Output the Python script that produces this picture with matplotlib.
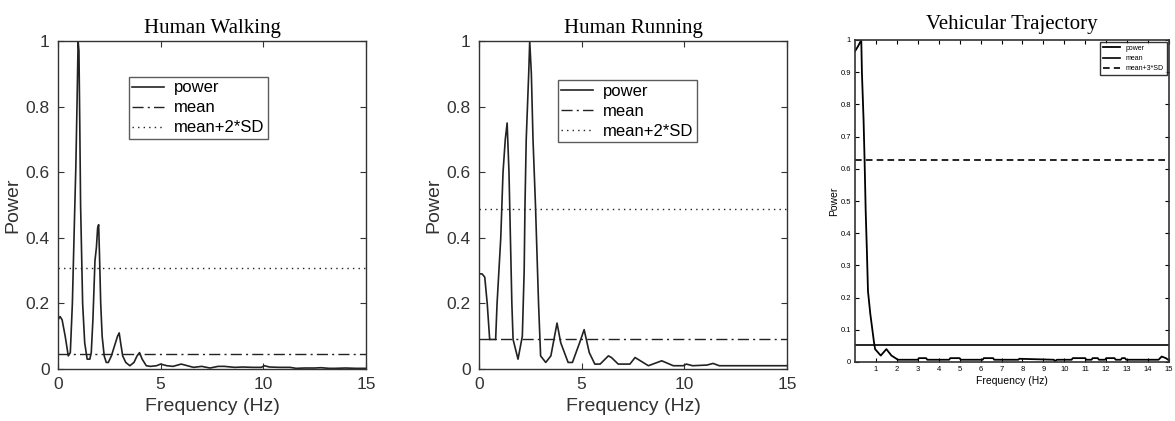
import numpy as np
import matplotlib
matplotlib.use("Agg")
import matplotlib.pyplot as plt

# =========================
# DATA
# =========================
walk_f = [0.0, 0.1, 0.2, 0.35, 0.5, 0.6, 0.7, 0.8, 0.87, 0.93, 0.98, 1.02, 1.06, 1.1, 1.2,
          1.3, 1.42, 1.55, 1.62, 1.7, 1.8, 1.87, 1.93, 1.98, 2.02, 2.08, 2.15, 2.25, 2.35, 2.45,
          2.6, 2.75, 2.9, 2.98, 3.05, 3.15, 3.3, 3.5, 3.7, 3.85, 3.97, 4.1, 4.3, 4.5, 4.8,
          5.0, 5.3, 5.6, 6.0, 6.3, 6.6, 7.0, 7.4, 7.8, 8.1, 8.6, 9.0, 9.5, 9.9, 10.05,
          10.3, 10.8, 11.3, 11.6, 12.0, 12.5, 12.8, 13.2, 13.5, 14.0, 14.5, 15.0]
walk_p = [0.15, 0.16, 0.15, 0.1, 0.04, 0.05, 0.2, 0.45, 0.62, 0.82, 1.0, 0.97, 0.75, 0.5, 0.2,
          0.08, 0.03, 0.03, 0.05, 0.15, 0.33, 0.37, 0.43, 0.44, 0.35, 0.2, 0.1, 0.04, 0.02, 0.02,
          0.04, 0.07, 0.1, 0.11, 0.08, 0.04, 0.02, 0.01, 0.02, 0.04, 0.05, 0.03, 0.01, 0.008, 0.01,
          0.015, 0.01, 0.008, 0.015, 0.01, 0.005, 0.008, 0.003, 0.008, 0.008, 0.005, 0.006, 0.005, 0.005, 0.01,
          0.006, 0.005, 0.005, 0.002, 0.003, 0.003, 0.004, 0.002, 0.002, 0.003, 0.002, 0.002]
walk_mean = 0.046
walk_thr = 0.307

run_f = [0.0, 0.15, 0.28, 0.4, 0.52, 0.81, 0.88, 1.06, 1.17, 1.28, 1.37, 1.46, 1.6, 1.66, 1.9,
         2.11, 2.2, 2.24, 2.3, 2.42, 2.47, 2.55, 2.63, 2.75, 2.9, 3.0, 3.25, 3.5, 3.8, 3.98,
         4.34, 4.55, 4.9, 5.12, 5.37, 5.64, 5.9, 6.3, 6.45, 6.78, 7.35, 7.6, 8.25, 8.9, 9.46,
         9.95, 10.1, 10.4, 11.1, 11.4, 11.7, 15.0]
run_p = [0.29, 0.29, 0.28, 0.2, 0.09, 0.09, 0.2, 0.4, 0.6, 0.7, 0.75, 0.6, 0.2, 0.09, 0.03,
         0.1, 0.3, 0.5, 0.7, 0.9, 1.0, 0.9, 0.7, 0.5, 0.2, 0.04, 0.02, 0.04, 0.14, 0.08,
         0.02, 0.02, 0.08, 0.12, 0.05, 0.015, 0.015, 0.04, 0.035, 0.015, 0.015, 0.035, 0.01, 0.025, 0.01,
         0.01, 0.015, 0.01, 0.012, 0.017, 0.01, 0.01]
run_mean = 0.091
run_thr = 0.489

veh_f = [0.0, 0.14, 0.3, 0.33, 0.41, 0.46, 0.51, 0.57, 0.62, 0.73, 0.83, 0.91, 0.96, 1.23, 1.5,
         1.74, 1.98, 2.05, 3.0, 3.05, 3.4, 3.45, 4.5, 4.55, 5.0, 5.05, 6.1, 6.15, 6.6, 6.65,
         7.8, 7.85, 9.5, 9.55, 9.65, 10.35, 10.4, 11.0, 11.05, 11.3, 11.35, 11.6, 11.65, 11.95, 12.0,
         12.4, 12.45, 12.7, 12.75, 12.9, 12.95, 14.5, 14.65, 14.85, 15.0]
veh_p = [0.965, 0.98, 1.0, 0.9, 0.75, 0.62, 0.47, 0.34, 0.22, 0.15, 0.1, 0.06, 0.04, 0.02, 0.04,
         0.02, 0.01, 0.007, 0.007, 0.012, 0.012, 0.007, 0.007, 0.012, 0.012, 0.007, 0.007, 0.012, 0.012, 0.007,
         0.007, 0.01, 0.007, 0.003, 0.007, 0.007, 0.012, 0.012, 0.007, 0.007, 0.012, 0.012, 0.007, 0.007, 0.012,
         0.012, 0.007, 0.007, 0.012, 0.012, 0.007, 0.007, 0.017, 0.012, 0.005]
veh_mean = 0.053
veh_thr = 0.627

titles = ["Human Walking", "Human Running", "Vehicular Trajectory"]

# =========================
# FIGURE
# =========================
plt.rcParams['font.family'] = ['Liberation Sans', 'DejaVu Sans']
fig = plt.figure(figsize=(11.75, 4.21), dpi=100)

ink = "#222222"


def style_box(ax, lw=1.0):
    for s in ax.spines.values():
        s.set_color("#333333")
        s.set_linewidth(lw)
    ax.tick_params(direction="in", top=True, right=True, colors="#333333")


# ---- panel 1 and 2 (same style)
for i, (f, p, m, t, left, legx, legy) in enumerate([
        (walk_f, walk_p, walk_mean, walk_thr, 58 / 1175, 0.23, 0.89),
        (run_f, run_p, run_mean, run_thr, 479 / 1175, 0.256, 0.88)]):
    ax = fig.add_axes([left, 52 / 421, 308 / 1175, 328 / 421])
    ax.plot(f, p, color=ink, lw=1.2, label="power")
    ax.axhline(m, color=ink, lw=1.0, ls=(0, (8, 3, 1.5, 3)), label="mean")
    ax.axhline(t, color=ink, lw=1.0, ls=(0, (1, 3)), label="mean+2*SD")
    ax.set_xlim(0, 15)
    ax.set_ylim(0, 1)
    ax.set_xticks([0, 5, 10, 15])
    ax.set_yticks([0, 0.2, 0.4, 0.6, 0.8, 1])
    ax.set_yticklabels(["0", "0.2", "0.4", "0.6", "0.8", "1"])
    style_box(ax)
    ax.tick_params(labelsize=12.5, length=4, pad=6, labelcolor="#333333")
    ax.set_xlabel("Frequency (Hz)", fontsize=14, color="#333333", labelpad=4)
    ax.set_ylabel("Power", fontsize=14, color="#333333", labelpad=3)
    ax.set_title(titles[i], family="Liberation Serif", fontsize=15, pad=6)
    leg = ax.legend(loc="upper left", bbox_to_anchor=(legx, legy), fontsize=12,
                    frameon=True, fancybox=False, edgecolor="#333333", borderaxespad=0,
                    handlelength=1.9, borderpad=0.2, labelspacing=0.3, handletextpad=0.6)
    leg.get_frame().set_linewidth(1.0)

# ---- panel 3
ax = fig.add_axes([855 / 1175, 59 / 421, 314 / 1175, 322 / 421])
ax.plot(veh_f, veh_p, color="black", lw=1.3, label="power")
ax.axhline(veh_mean, color="black", lw=1.2, label="mean")
ax.axhline(veh_thr, color="black", lw=1.2, ls=(0, (4, 2.5)), label="mean+3*SD")
ax.set_xlim(0, 15)
ax.set_ylim(0, 1)
ax.set_xticks(range(1, 16))
ax.set_yticks(np.arange(0, 1.01, 0.1))
ax.set_yticklabels(["0", "0.1", "0.2", "0.3", "0.4", "0.5", "0.6", "0.7", "0.8", "0.9", "1"])
style_box(ax, lw=1.2)
ax.tick_params(labelsize=5.5, length=3, pad=3, colors="black")
ax.set_xlabel("Frequency (Hz)", fontsize=7.5, labelpad=2)
ax.set_ylabel("Power", fontsize=7.5, labelpad=1)
ax.set_title(titles[2], family="Liberation Serif", fontsize=15, pad=8)
leg = ax.legend(loc="upper right", fontsize=5, frameon=True, fancybox=False,
                edgecolor="black", handlelength=2.5, borderpad=0.4, labelspacing=0.45,
                borderaxespad=0.3)
leg.get_frame().set_linewidth(1.0)

plt.savefig("out.png", dpi=100, facecolor="white")
plt.close()
